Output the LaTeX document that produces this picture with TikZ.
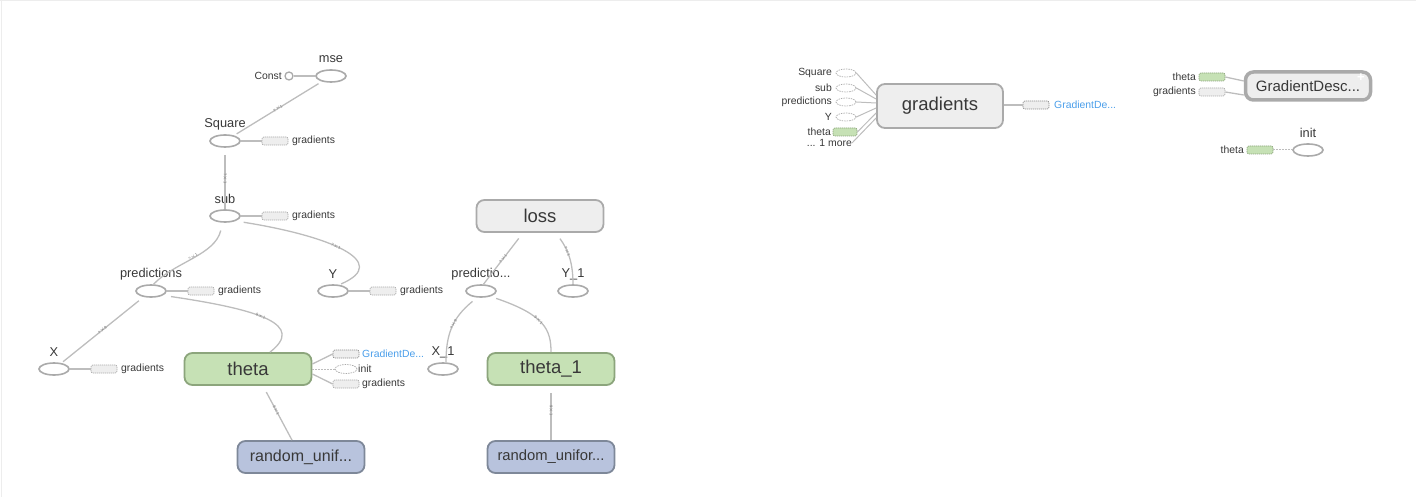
\documentclass[tikz,border=0pt]{standalone}
\usepackage{fontspec}
\setmainfont{Liberation Sans}
\usetikzlibrary{shapes.geometric}
\definecolor{edgec}{HTML}{BDBDBD}
\definecolor{opline}{HTML}{AAAAAA}
\definecolor{txt}{HTML}{383838}
\definecolor{grayfill}{HTML}{EEEEEE}
\definecolor{greenfill}{HTML}{C6E1B5}
\definecolor{greenline}{HTML}{8CA57C}
\definecolor{bluefill}{HTML}{B8C3DD}
\definecolor{blueline}{HTML}{7E8899}
\definecolor{linkblue}{HTML}{4A9EEA}
\tikzset{
  opnode/.style={ellipse, draw=opline, line width=1.6pt, fill=white, minimum width=30pt, minimum height=12pt, inner sep=0pt},
  oplabel/.style={font=\fontsize{12.8}{13}\selectfont, text=txt, inner sep=0pt},
  small/.style={font=\fontsize{10.4}{11}\selectfont, text=txt, inner sep=0pt},
  bigbox/.style={rectangle, rounded corners=8pt, line width=1.8pt, minimum width=127pt, minimum height=32pt, inner sep=0pt, font=\fontsize{18.5}{19}\selectfont, text=txt},
  graybox/.style={bigbox, draw=opline, fill=grayfill},
  greenbox/.style={bigbox, draw=greenline, fill=greenfill},
  bluebox/.style={bigbox, draw=blueline, fill=bluefill, font=\fontsize{16}{17}\selectfont},
  stub/.style={rectangle, rounded corners=2pt, minimum width=26pt, minimum height=8pt, inner sep=0pt, draw=opline, dash pattern=on 1.2pt off 0.8pt, fill=grayfill, line width=0.7pt},
  greenstub/.style={stub, fill=greenfill, draw=greenline},
  ctlstub/.style={ellipse, minimum width=22pt, minimum height=9pt, inner sep=0pt, draw=opline, dash pattern=on 1.5pt off 1pt, line width=0.7pt},
  edgeline/.style={draw=edgec, line width=1.3pt},
  ctlline/.style={edgeline, line width=1pt, dash pattern=on 1.5pt off 1.5pt},
  elab/.style={font=\fontsize{4}{4}\selectfont, text=black!55, sloped, inner sep=0pt}
}
\begin{document}
\begin{tikzpicture}[x=1pt, y=-1pt]
\useasboundingbox (0,0) rectangle (1416,497);
\draw[black!7, line width=1pt] (0,1) -- (1416,1);
\draw[black!7, line width=1pt] (1,0) -- (1,497);

% ---------- cluster 1 ----------
\node[opnode] (mse) at (331,76) {};
\node[oplabel] (mselbl) at (331,59) {mse};
\node[circle, draw=opline, line width=1.3pt, fill=white, minimum size=8pt, inner sep=0pt] (const) at (289,76) {};
\node[small, anchor=east] (constlbl) at (282,76) {Const};
\draw[edgeline] (const) -- (mse);

\node[opnode] (sq) at (225,141) {};
\node[oplabel] (sqlbl) at (225,124) {Square};
\node[stub] (sqg) at (275,141) {};
\node[small, anchor=west] (sqglbl) at (292,141) {gradients};
\draw[edgeline] (sq) -- (sqg);
\draw[edgeline, shorten <=4pt, shorten >=3pt] (mse) -- node[elab, pos=0.5] {?$\times$1} (sq);

\node[opnode] (sub) at (225,216) {};
\node[oplabel] (sublbl) at (225,199) {sub};
\node[stub] (subg) at (275,216) {};
\node[small, anchor=west] (subglbl) at (292,216) {gradients};
\draw[edgeline] (sub) -- (subg);
\draw[edgeline, shorten <=7pt] (sq) -- node[elab, pos=0.5] {?$\times$1} (sub);

\node[opnode] (pred) at (151,291) {};
\node[oplabel] (predlbl) at (151,274) {predictions};
\node[stub] (predg) at (201,291) {};
\node[small, anchor=west] (predglbl) at (218,291) {gradients};
\draw[edgeline] (pred) -- (predg);

\node[opnode] (y) at (333,291) {};
\node[oplabel] (ylbl) at (333,274) {Y};
\node[stub] (yg) at (383,291) {};
\node[small, anchor=west] (yglbl) at (400,291) {gradients};
\draw[edgeline] (y) -- (yg);

\node[opnode] (x) at (54,369) {};
\node[oplabel] (xlbl) at (54,352) {X};
\node[stub] (xg) at (104,369) {};
\node[small, anchor=west] (xglbl) at (121,369) {gradients};
\draw[edgeline] (x) -- (xg);

\node[greenbox] (theta) at (248,369) {theta};
\node[stub, draw=black!45] (thgd) at (346,354) {};
\node[small, anchor=west, text=linkblue] (thgdlbl) at (362,354) {GradientDe...};
\node[ctlstub] (thinit) at (346,369) {};
\node[small, anchor=west] (thinitlbl) at (358,369) {init};
\node[stub] (thg) at (346,384) {};
\node[small, anchor=west] (thglbl) at (362,384) {gradients};
\draw[edgeline] ([yshift=5pt]theta.east) -- (thgd.west);
\draw[ctlline] (theta.east) -- (thinit.west);
\draw[edgeline] ([yshift=-5pt]theta.east) -- (thg.west);

\node[bluebox] (rand1) at (301,457) {random\_unif...};

\draw[edgeline, shorten <=8pt] (sub.250) .. controls (215,255) and (175,262) .. node[elab, pos=0.5] {?$\times$1} (pred.70);
\draw[edgeline, shorten <=8pt, shorten >=2pt] (sub.-25) .. controls (330,236) and (392,262) .. node[elab, pos=0.45] {?$\times$1} (y.45);
\draw[edgeline, shorten <=6pt, shorten >=2pt] (pred) -- node[elab, pos=0.5] {?$\times$9} (x);
\draw[edgeline, shorten <=8pt] (pred.-20) .. controls (262,310) and (305,325) .. node[elab, pos=0.45] {9$\times$1} ([xshift=22pt]theta.north);
\draw[edgeline, shorten <=7pt] ([xshift=15pt]theta.south) -- node[elab, pos=0.45] {9$\times$1} ([xshift=-9pt]rand1.north);

% ---------- cluster 2 ----------
\node[graybox] (loss) at (540,216) {loss};
\node[opnode] (pred1) at (481,291) {};
\node[oplabel] (pred1lbl) at (481,274) {predictio...};
\node[opnode] (y1) at (573,291) {};
\node[oplabel] (y1lbl) at (573,274) {Y\_1};
\node[opnode] (x1) at (443,369) {};
\node[oplabel] (x1lbl) at (443,352) {X\_1};
\node[greenbox] (theta1) at (551,369) {theta\_1};
\node[bluebox, font=\fontsize{14.8}{16}\selectfont] (rand2) at (551,457) {random\_unifor...};

\draw[edgeline, shorten <=7pt] ([xshift=-17pt]loss.south) -- node[elab, pos=0.5] {?$\times$1} (pred1.70);
\draw[edgeline, shorten <=7pt] ([xshift=16pt]loss.south) .. controls (568,250) and (573,262) .. node[elab, pos=0.4] {?$\times$1} (y1.north);
\draw[edgeline, shorten <=6pt] (pred1.240) .. controls (452,318) and (446,335) .. node[elab, pos=0.45] {?$\times$9} ([xshift=3pt]x1.north);
\draw[edgeline, shorten <=6pt] (pred1.-30) .. controls (545,315) and (551,330) .. node[elab, pos=0.45] {9$\times$1} (theta1.north);
\draw[edgeline, shorten <=7pt] (theta1.south) -- node[elab, pos=0.45] {9$\times$1} (rand2.north);

% ---------- gradients ----------
\node[graybox, minimum width=126pt, minimum height=44pt] (grad) at (940,106) {gradients};
\node[ctlstub, minimum width=20pt, minimum height=8pt] (gsq) at (846,73) {};
\node[small, anchor=east] (gsqlbl) at (832,73) {Square};
\node[ctlstub, minimum width=20pt, minimum height=8pt] (gsub) at (846,88) {};
\node[small, anchor=east] (gsublbl) at (832,88) {sub};
\node[ctlstub, minimum width=20pt, minimum height=8pt] (gpred) at (846,102) {};
\node[small, anchor=east] (gpredlbl) at (832,102) {predictions};
\node[ctlstub, minimum width=20pt, minimum height=8pt] (gy) at (846,117) {};
\node[small, anchor=east] (gylbl) at (832,117) {Y};
\node[greenstub, minimum width=24pt] (gth) at (845,132) {};
\node[small, anchor=east] (gthlbl) at (831,132) {theta};
\node[small, anchor=east] (gmore) at (852,143) {... 1 more};
\draw[edgeline, line width=1pt] (gsq.east) -- ([yshift=11pt]grad.west);
\draw[edgeline, line width=1pt] (gsub.east) -- ([yshift=7pt]grad.west);
\draw[edgeline, line width=1pt] (gpred.east) -- ([yshift=3pt]grad.west);
\draw[edgeline, line width=1pt] (gy.east) -- ([yshift=-2pt]grad.west);
\draw[edgeline, line width=1pt] (gth.east) -- ([yshift=-7pt]grad.west);
\draw[edgeline, line width=1pt] (gmore.east) -- ([yshift=-12pt]grad.west);
\node[stub, draw=black!45] (gout) at (1036,105) {};
\node[small, anchor=west, text=linkblue] (goutlbl) at (1054,105) {GradientDe...};
\draw[edgeline] (grad.east |- gout) -- (gout.west);

% ---------- GradientDescent ----------
\node[graybox, line width=3.5pt, minimum width=125pt, minimum height=28pt, font=\fontsize{15}{16}\selectfont] (gd) at (1308,86) {GradientDesc...};
\node[text=white, font=\bfseries\fontsize{13}{13}\selectfont, inner sep=0pt] (gdplus) at (1361,78) {+};
\node[greenstub] (gdth) at (1212,77) {};
\node[small, anchor=east] (gdthlbl) at (1196,77) {theta};
\node[stub] (gdg) at (1212,92) {};
\node[small, anchor=east] (gdglbl) at (1196,92) {gradients};
\draw[edgeline] (gdth.east) -- ([yshift=5pt]gd.west);
\draw[edgeline] (gdg.east) -- ([yshift=-9pt]gd.west);

% ---------- init ----------
\node[opnode] (init) at (1308,150) {};
\node[oplabel] (initlbl) at (1308,133) {init};
\node[greenstub] (initth) at (1260,150) {};
\node[small, anchor=east] (initthlbl) at (1244,150) {theta};
\draw[ctlline] (initth.east) -- (init.west);
\end{tikzpicture}
\end{document}
